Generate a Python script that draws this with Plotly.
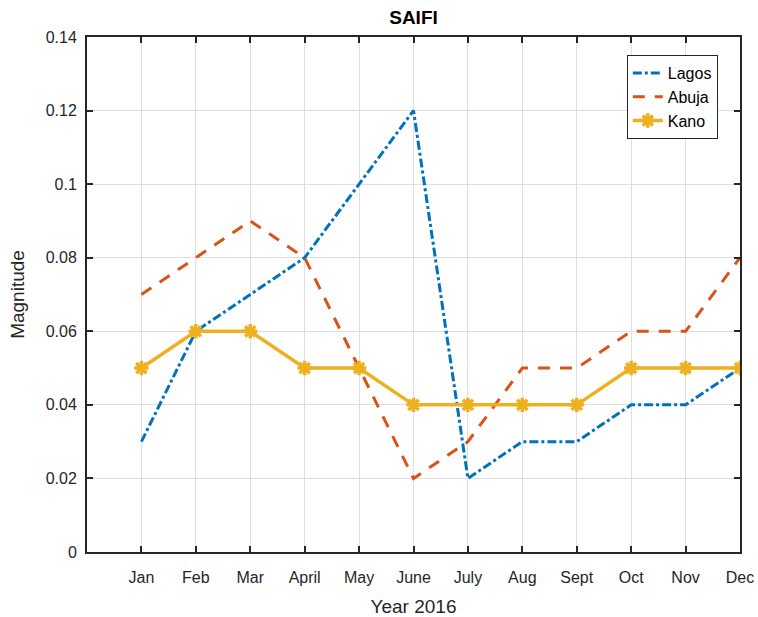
import plotly.graph_objects as go

months = ["Jan", "Feb", "Mar", "April", "May", "June", "July", "Aug", "Sept", "Oct", "Nov", "Dec"]
month_pos = list(range(1, 13))
lagos = [0.03, 0.06, 0.07, 0.08, 0.10, 0.12, 0.02, 0.03, 0.03, 0.04, 0.04, 0.05]
abuja = [0.07, 0.08, 0.09, 0.08, 0.05, 0.02, 0.03, 0.05, 0.05, 0.06, 0.06, 0.08]
kano = [0.05, 0.06, 0.06, 0.05, 0.05, 0.04, 0.04, 0.04, 0.04, 0.05, 0.05, 0.05]
y_ticks = [0, 0.02, 0.04, 0.06, 0.08, 0.1, 0.12, 0.14]
y_labels = ["0", "0.02", "0.04", "0.06", "0.08", "0.1", "0.12", "0.14"]

fig = go.Figure()
fig.add_trace(go.Scatter(x=month_pos, y=lagos, mode="lines", name="Lagos",
                         line=dict(color="#0072BD", width=3, dash="dashdot")))
fig.add_trace(go.Scatter(x=month_pos, y=abuja, mode="lines", name="Abuja",
                         line=dict(color="#D95319", width=3, dash="12px,10px")))
fig.add_trace(go.Scatter(x=month_pos, y=kano, mode="lines+markers", name="Kano",
                         line=dict(color="#EDB120", width=3.5),
                         marker=dict(symbol="asterisk-open", size=12,
                                     line=dict(color="#EDB120", width=3.5))))

fig.update_layout(
    width=758, height=617,
    margin=dict(l=87, r=18, t=37, b=65, autoexpand=False),
    paper_bgcolor="white", plot_bgcolor="white",
    font=dict(family="Liberation Sans, Arial, sans-serif", size=16, color="#262626"),
    title=dict(text="<b>SAIFI</b>", x=0.5, xref="paper", xanchor="center",
               y=1, yref="container", yanchor="top", pad=dict(t=11),
               font=dict(size=19, color="#000000")),
    legend=dict(x=0.966, y=0.965, xanchor="right", yanchor="top",
                bgcolor="white", bordercolor="#262626", borderwidth=1,
                font=dict(size=16, color="#000000")),
    showlegend=True,
)
fig.update_xaxes(range=[0, 12], tickvals=month_pos, ticktext=months,
                 showgrid=True, gridcolor="#DFDFDF", gridwidth=1,
                 ticks="inside", ticklen=6, tickcolor="#262626", tickwidth=1.5,
                 showline=True, linecolor="#262626", linewidth=2, mirror="ticks",
                 zeroline=False, automargin=False, ticklabeloverflow="allow",
                 ticklabelstandoff=10,
                 title=dict(text="Year 2016", font=dict(size=19, color="#262626"), standoff=14))
fig.update_yaxes(range=[0, 0.14], tickvals=y_ticks, ticktext=y_labels,
                 showgrid=True, gridcolor="#DFDFDF", gridwidth=1,
                 ticks="inside", ticklen=6, tickcolor="#262626", tickwidth=1.5,
                 showline=True, linecolor="#262626", linewidth=2, mirror="ticks",
                 zeroline=False, automargin=False, ticklabelstandoff=5,
                 title=dict(text="Magnitude", font=dict(size=19, color="#262626"), standoff=16))

fig.write_html("out.html", config={"displayModeBar": False},
               post_script="document.body.style.margin='0';document.body.style.overflow='hidden';")
